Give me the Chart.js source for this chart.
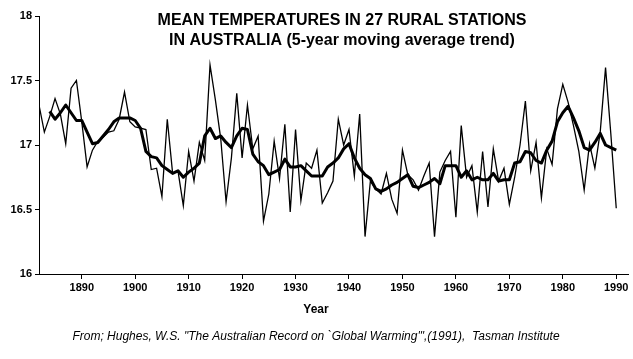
<!DOCTYPE html>
<html lang="en">
<head>
<meta charset="UTF-8">
<title>Mean temperatures in 27 rural stations in Australia</title>
<script src="https://cdn.jsdelivr.net/npm/chart.js"></script>
<style>
  html, body { margin: 0; padding: 0; background: #fff; }
  #wrap { width: 633px; height: 359px; }
</style>
</head>
<body>
<div id="wrap"><canvas id="tempChart" width="633" height="359"></canvas></div>
<script>
// annual mean temperature, one value per year from firstYear
const firstYear = 1882;
const annualTemp = [
  17.31, 17.10, 17.22, 17.36, 17.24, 17.01, 17.44, 17.50,            // 1882-1889
  17.18, 16.83, 16.96, 17.03, 17.06, 17.10, 17.11, 17.20, 17.41, 17.18, // 1890s
  17.14, 17.13, 17.12, 16.81, 16.82, 16.60, 17.20, 16.78, 16.80, 16.53, // 1900s
  16.95, 16.72, 17.02, 16.88, 17.62, 17.35, 17.05, 16.56, 16.90, 17.40, // 1910s
  16.90, 17.31, 16.97, 17.07, 16.41, 16.62, 17.03, 16.74, 17.16, 16.48, // 1920s
  17.12, 16.57, 16.86, 16.82, 16.96, 16.55, 16.63, 16.72, 17.20, 17.00, // 1930s
  17.12, 16.76, 17.24, 16.29, 16.72, 16.66, 16.62, 16.78, 16.58, 16.47, // 1940s
  16.96, 16.77, 16.73, 16.65, 16.76, 16.86, 16.29, 16.79, 16.88, 16.95, // 1950s
  16.44, 17.15, 16.75, 16.84, 16.48, 16.95, 16.52, 16.97, 16.72, 16.82, // 1960s
  16.54, 16.75, 17.00, 17.34, 16.80, 17.02, 16.59, 16.97, 16.85, 17.28, // 1970s
  17.47, 17.33, 17.15, 16.95, 16.65, 17.01, 16.82, 17.10, 17.60, 17.08, // 1980s
  16.51                                                               // 1990
];

// 5-year moving average trend
const trendStart = 1884;
const trendTemp = [
  17.26, 17.20, 17.25, 17.31, 17.25, 17.19,                           // 1884-1889
  17.19, 17.10, 17.01, 17.02, 17.07, 17.12, 17.18, 17.21, 17.21, 17.21, // 1890s
  17.19, 17.13, 16.95, 16.91, 16.90, 16.84, 16.81, 16.78, 16.80, 16.75, // 1900s
  16.79, 16.82, 16.86, 17.07, 17.13, 17.05, 17.07, 17.02, 16.98, 17.07, // 1910s
  17.13, 17.12, 16.93, 16.87, 16.84, 16.77, 16.79, 16.81, 16.89, 16.83, // 1920s
  16.83, 16.84, 16.80, 16.76, 16.76, 16.76, 16.83, 16.86, 16.90, 16.97, // 1930s
  17.01, 16.90, 16.82, 16.77, 16.74, 16.66, 16.64, 16.66, 16.69, 16.71, // 1940s
  16.74, 16.77, 16.68, 16.67, 16.69, 16.71, 16.74, 16.70, 16.84, 16.84, // 1950s
  16.84, 16.75, 16.80, 16.73, 16.75, 16.73, 16.73, 16.78, 16.72, 16.73, // 1960s
  16.73, 16.86, 16.87, 16.95, 16.94, 16.88, 16.86, 16.96, 17.03, 17.18, // 1970s
  17.25, 17.30, 17.21, 17.11, 16.98, 16.96, 17.02, 17.09, 17.00, 16.98, // 1980s
  16.96                                                               // 1990
];

const xTicks = [1890, 1900, 1910, 1920, 1930, 1940, 1950, 1960, 1970, 1980, 1990];
const yTicks = [16, 16.5, 17, 17.5, 18];

const titleLines = [
  'MEAN TEMPERATURES IN 27 RURAL STATIONS',
  'IN AUSTRALIA (5-year moving average trend)'
];
const xTitle = 'Year';
const sourceNote = 'From; Hughes, W.S. "The Australian Record on `Global Warming\'",(1991),  Tasman Institute';

const FONT = '"Liberation Sans", Arial, sans-serif';

function toPoints(startYear, values) {
  return values.map((v, i) => ({ x: startYear + i, y: v }));
}

// title, axis title and source are drawn straight on the canvas
const textPlugin = {
  id: 'chartText',
  afterDraw(chart) {
    const ctx = chart.ctx;
    ctx.save();
    ctx.fillStyle = '#000';
    ctx.textAlign = 'center';
    ctx.textBaseline = 'middle';
    ctx.font = 'bold 16px ' + FONT;
    ctx.fillText(titleLines[0], 342, 21);
    ctx.fillText(titleLines[1], 342, 41);
    ctx.font = 'bold 12px ' + FONT;
    ctx.fillText(xTitle, 316, 310);
    ctx.font = 'italic 12px ' + FONT;
    ctx.fillText(sourceNote, 316, 337);
    ctx.restore();
  }
};

const ctx = document.getElementById('tempChart').getContext('2d');
new Chart(ctx, {
  type: 'line',
  data: {
    datasets: [
      {
        label: 'Annual mean',
        data: toPoints(firstYear, annualTemp),
        borderColor: '#000',
        borderWidth: 1.3,
        pointRadius: 0,
        tension: 0
      },
      {
        label: '5-year moving average',
        data: toPoints(trendStart, trendTemp),
        borderColor: '#000',
        borderWidth: 3,
        pointRadius: 0,
        tension: 0,
        borderJoinStyle: 'round'
      }
    ]
  },
  options: {
    responsive: false,
    animation: false,
    layout: { padding: { top: 16, right: 5, bottom: 0, left: 0 } },
    plugins: {
      legend: { display: false },
      tooltip: { enabled: false },
      title: { display: false }
    },
    scales: {
      x: {
        type: 'linear',
        min: 1882,
        max: 1992.2,
        afterBuildTicks: s => { s.ticks = xTicks.map(v => ({ value: v })); },
        afterFit: s => { s.height = 85; },
        ticks: {
          color: '#000',
          font: { family: FONT, size: 11, weight: 'bold' },
          padding: 2,
          maxRotation: 0,
          autoSkip: false,
          callback: v => String(v)
        },
        grid: { drawOnChartArea: false, tickLength: 5, color: '#000' },
        border: { color: '#000', width: 1 }
      },
      y: {
        type: 'linear',
        min: 16,
        max: 18,
        afterBuildTicks: s => { s.ticks = yTicks.map(v => ({ value: v })); },
        afterFit: s => { s.width = 39; },
        ticks: {
          color: '#000',
          font: { family: FONT, size: 11, weight: 'bold' },
          padding: 3,
          callback: v => String(v)
        },
        grid: { drawOnChartArea: false, tickLength: 4, color: '#000' },
        border: { color: '#000', width: 1 }
      }
    }
  },
  plugins: [textPlugin]
});
</script>
</body>
</html>
